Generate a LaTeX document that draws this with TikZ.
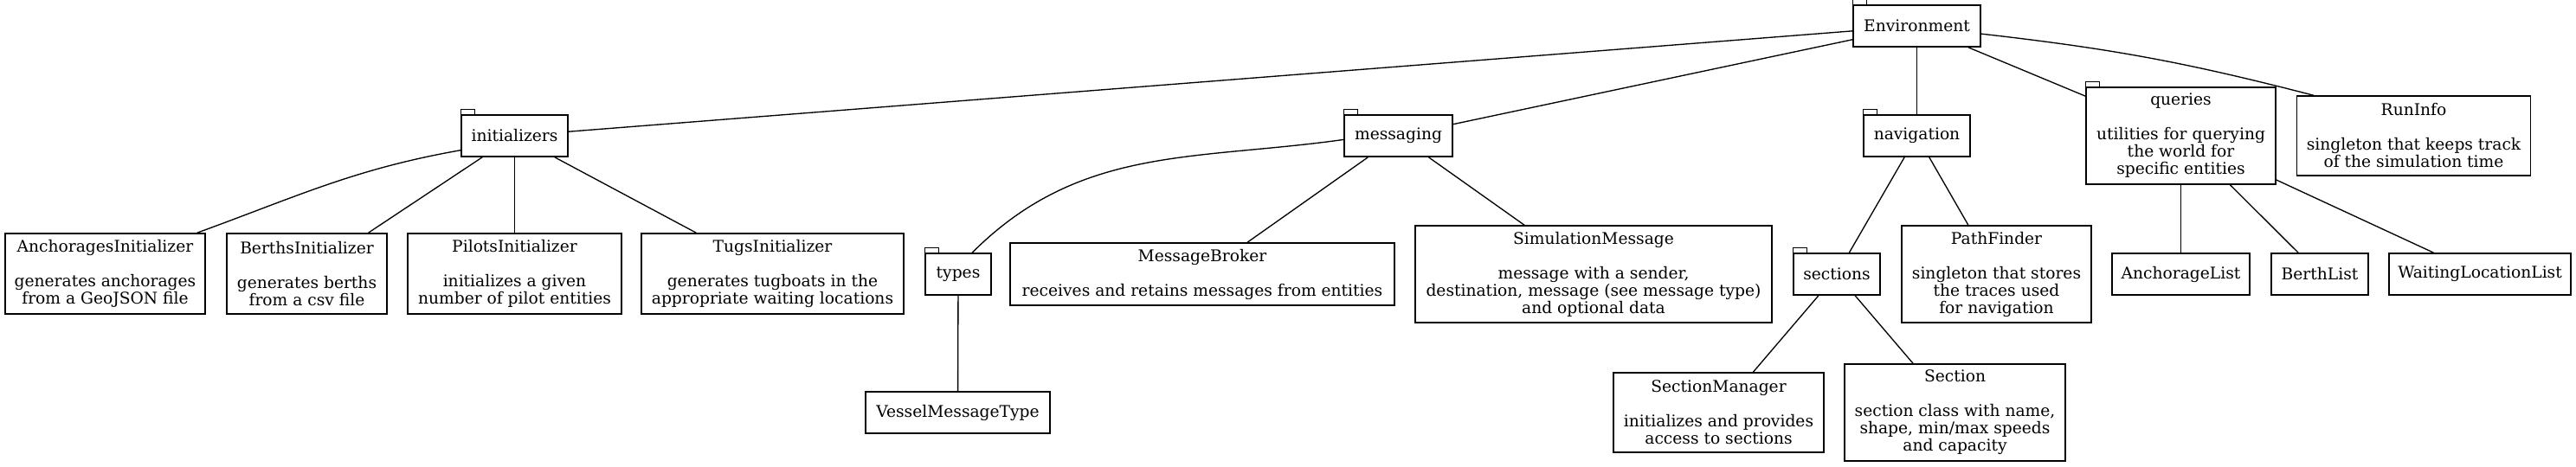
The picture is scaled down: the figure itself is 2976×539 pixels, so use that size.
\documentclass[tikz,border=0pt]{standalone}
\usepackage{fontspec}
\setmainfont{DejaVu Serif}
\usepackage{tikz}

\tikzset{
  box/.style={draw, rectangle, line width=1.2pt, align=center, inner sep=2pt,
    font=\fontsize{14}{15}\selectfont},
  sz/.style 2 args={minimum width=#1*0.75pt, minimum height=#2*0.75pt},
  link/.style={line width=1pt},
}

\begin{document}
\begin{tikzpicture}[x=0.75pt, y=-0.75pt]
	\useasboundingbox (0,0) rectangle (2976,539);
	% packages
	\node[box, sz={147}{48}] (env) at (2214.5,30) {Environment};%
	\node[box, sz={123}{48}] (init) at (594.5,157) {initializers};%
	\node[box, sz={125}{48}] (msg) at (1615.5,157) {messaging};%
	\node[box, sz={76}{48}] (types) at (1107,317) {types};%
	\node[box, sz={123}{48}] (nav) at (2214.5,157) {navigation};%
	\node[box, sz={100}{48}] (sect) at (2122,317) {sections};%
	\node[box, sz={219}{112}] (qry) at (2519.5,157) {queries\\[15pt]utilities for querying\\the world for\\specific entities};%
	% classes
	\node[box, sz={231}{93}] (anch) at (121.5,316.5) {AnchoragesInitializer\\[15pt]generates anchorages\\from a GeoJSON file};%
	\node[box, sz={185}{93}] (berths) at (354.5,316.5) {BerthsInitializer\\[15pt]generates berths\\from a csv file};%
	\node[box, sz={247}{93}] (pilots) at (594.5,316.5) {PilotsInitializer\\[15pt]initializes a given\\number of pilot entities};%
	\node[box, sz={303}{93}] (tugs) at (892.5,316.5) {TugsInitializer\\[15pt]generates tugboats in the\\appropriate waiting locations};%
	\node[box, sz={213}{48}] (vmt) at (1106.5,477) {VesselMessageType};%
	\node[box, sz={444}{72}] (broker) at (1389,317) {MessageBroker\\[15pt]receives and retains messages from entities};%
	\node[box, sz={412}{112}] (simmsg) at (1841,317) {SimulationMessage\\[15pt]message with a sender,\\destination, message (see message type)\\and optional data};%
	\node[box, sz={219}{112}] (pathf) at (2306.5,317) {PathFinder\\[15pt]singleton that stores\\the traces used\\for navigation};%
	\node[box, sz={243}{92}] (secmgr) at (1985.5,477) {SectionManager\\[15pt]initializes and provides\\access to sections};%
	\node[box, sz={255}{112}] (section) at (2258.5,477) {Section\\[15pt]section class with name,\\shape, min/max speeds\\and capacity};%
	\node[box, sz={270}{92}] (run) at (2788.5,157) {RunInfo\\[15pt]singleton that keeps track\\of the simulation time};%
	\node[box, sz={159}{48}] (anchlist) at (2519.5,317) {AnchorageList};%
	\node[box, sz={112}{48}] (berthlist) at (2680,317) {BerthList};%
	\node[box, sz={210}{48}] (wll) at (2865,317) {WaitingLocationList};%
	% folder tabs
	\foreach \n in {env,init,msg,types,nav,sect,qry}
	  \draw[line width=0.8pt] (\n.north west) rectangle ++(16,-5.5);
	% edges
	\foreach \a/\b in {env/init,env/msg,env/nav,env/qry,init/berths,init/pilots,init/tugs,
	    types/vmt,msg/broker,msg/simmsg,nav/sect,nav/pathf,sect/secmgr,sect/section,
	    qry/anchlist,qry/berthlist,qry/wll}
	  \draw[link] (\a) -- (\b);
	\draw[link] (env.-7) to[bend left=4] (run.158);%
	\draw[link] (init.195) to[out=190,in=20] (anch.24);%
	\draw[link] (msg.184) to[out=188,in=45] (types.57);%
\end{tikzpicture}
\end{document}
